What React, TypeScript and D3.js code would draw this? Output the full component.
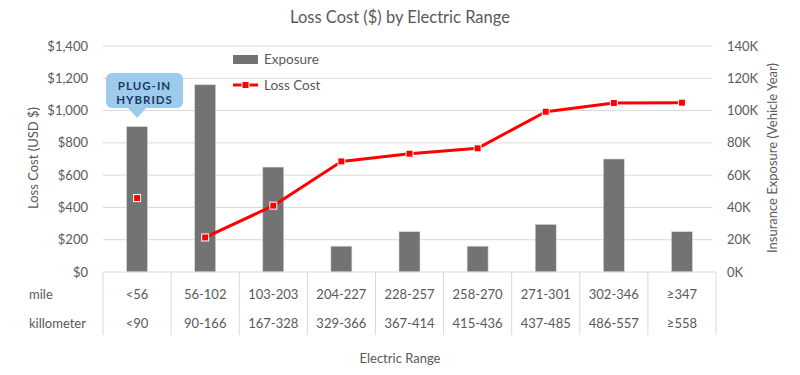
import React from "react";
import * as d3 from "d3";

const milesLabels = ["<56", "56-102", "103-203", "204-227", "228-257", "258-270", "271-301", "302-346", "≥347"];
const kmLabels = ["<90", "90-166", "167-328", "329-366", "367-414", "415-436", "437-485", "486-557", "≥558"];
const exposure = [90000, 116000, 65000, 16000, 25000, 16000, 29500, 70000, 25000];
const lossCost = [458, 214, 411, 685, 733, 766, 993, 1047, 1049];
const leftTicks = [0, 200, 400, 600, 800, 1000, 1200, 1400];
const rightTicks = [0, 20000, 40000, 60000, 80000, 100000, 120000, 140000];

const W = 800, H = 375;
const left = 103, right = 716, top = 46, bottom = 272;
const FONT = "Lato, 'Open Sans', sans-serif";
const TXT = "#595959";

export default function App() {
  const x = d3.scaleBand<number>().domain(d3.range(milesLabels.length)).range([left, right]);
  const yL = d3.scaleLinear().domain([0, 1400]).range([bottom, top]);
  const yR = d3.scaleLinear().domain([0, 140000]).range([bottom, top]);
  const bw = 21;
  const cx = (i: number) => (x(i) as number) + x.bandwidth() / 2;
  const line = d3.line<number>().x((_, i) => cx(i + 1)).y((d) => yL(d));
  const linePath = line(lossCost.slice(1)) || "";
  const fmtL = (v: number) => "$" + d3.format(",")(v);
  const fmtR = (v: number) => v / 1000 + "K";
  const calloutX = cx(0);

  return (
    <svg width={W} height={H} style={{ position: "absolute", left: 0, top: 0, background: "#fff" }} fontFamily={FONT}>
      <text x={400} y={23} textAnchor="middle" fontSize={16.5} fill={TXT}>Loss Cost ($) by Electric Range</text>
      {leftTicks.map((t) => (
        <g key={t}>
          {t > 0 && <line x1={left} x2={right - 4} y1={yL(t)} y2={yL(t)} stroke="#d9d9d9" strokeWidth={1} />}
          <text x={88} y={yL(t)} dy="0.35em" textAnchor="end" fontSize={13} fill={TXT}>{fmtL(t)}</text>
        </g>
      ))}
      {rightTicks.map((t) => (
        <text key={t} x={727} y={yR(t)} dy="0.35em" textAnchor="start" fontSize={13} fill={TXT}>{fmtR(t)}</text>
      ))}
      <text transform={`translate(38,158) rotate(-90)`} textAnchor="middle" fontSize={13} fill={TXT}>Loss Cost (USD $)</text>
      <text transform={`translate(777,158) rotate(-90)`} textAnchor="middle" fontSize={13} fill={TXT}>Insurance Exposure (Vehicle Year)</text>

      {exposure.map((v, i) => (
        <rect key={i} x={cx(i) - bw / 2} y={yR(v)} width={bw} height={bottom - yR(v)} fill="#737373" stroke="#d9d9d9" strokeWidth={0.6} />
      ))}

      <line x1={left} x2={right} y1={bottom} y2={bottom} stroke="#d9d9d9" />
      {d3.range(milesLabels.length + 1).map((i) => {
        const xx = i < milesLabels.length ? (x(i) as number) : right;
        return <line key={i} x1={xx} x2={xx} y1={bottom} y2={335} stroke="#d9d9d9" />;
      })}
      {milesLabels.map((m, i) => (
        <g key={i}>
          <text x={cx(i)} y={294} dy="0.35em" textAnchor="middle" fontSize={13} fill={TXT}>{m}</text>
          <text x={cx(i)} y={323} dy="0.35em" textAnchor="middle" fontSize={13} fill={TXT}>{kmLabels[i]}</text>
        </g>
      ))}
      <text x={29} y={294} dy="0.35em" fontSize={13} fill={TXT}>mile</text>
      <text x={29} y={323} dy="0.35em" fontSize={13} fill={TXT}>killometer</text>
      <text x={400} y={358} dy="0.35em" textAnchor="middle" fontSize={13} fill={TXT}>Electric Range</text>

      <path d={linePath} fill="none" stroke="#ff0000" strokeWidth={3} strokeLinejoin="round" />
      {lossCost.map((v, i) => (
        <rect key={i} x={cx(i) - 3.5} y={yL(v) - 3.5} width={7} height={7} fill="#ff0000" stroke="#ffffff" strokeWidth={1} />
      ))}

      <rect x={233} y={55} width={25} height={9} fill="#737373" />
      <text x={264} y={59.5} dy="0.35em" fontSize={13.5} fill={TXT}>Exposure</text>
      <line x1={233} x2={258} y1={85} y2={85} stroke="#ff0000" strokeWidth={3} />
      <rect x={242} y={81.5} width={7} height={7} fill="#ff0000" stroke="#fff" strokeWidth={1} />
      <text x={264} y={85.5} dy="0.35em" fontSize={13.5} fill={TXT}>Loss Cost</text>

      <path d={`M${calloutX - 9},108 L${calloutX},118 L${calloutX + 9},108 Z`} fill="#9dcbec" />
      <rect x={106} y={73} width={77} height={35} rx={6} fill="#9dcbec" />
      <text x={144.5} y={86} dy="0.35em" textAnchor="middle" fontSize={11.5} fontWeight="bold" fill="#1f3864" letterSpacing={1}>PLUG-IN</text>
      <text x={144.5} y={99.5} dy="0.35em" textAnchor="middle" fontSize={11.5} fontWeight="bold" fill="#1f3864" letterSpacing={1}>HYBRIDS</text>
    </svg>
  );
}
